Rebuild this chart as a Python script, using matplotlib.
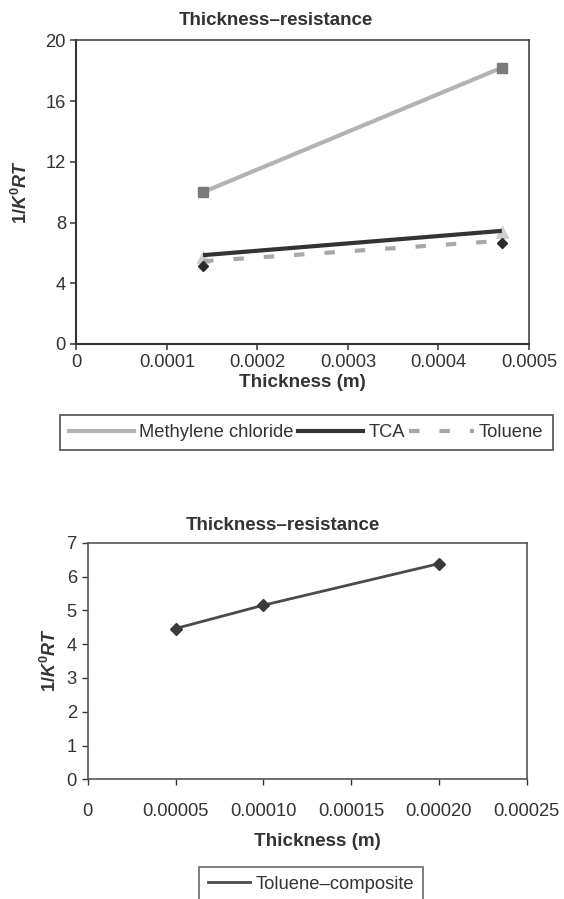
import matplotlib
matplotlib.use("Agg")
import matplotlib.pyplot as plt
from matplotlib.lines import Line2D

plt.rcParams['font.family'] = ['Liberation Sans', 'DejaVu Sans']
plt.rcParams['mathtext.fontset'] = 'custom'
plt.rcParams['mathtext.rm'] = 'Liberation Sans:bold'
plt.rcParams['mathtext.it'] = 'Liberation Sans:italic:bold'
plt.rcParams['mathtext.bf'] = 'Liberation Sans:bold'

W, H = 564, 899
txt = '#333333'

# top chart data
thick = [0.00014, 0.00047]
methylene = [10.0, 18.2]
tca = [5.85, 7.45]
tca_pts = [5.75, 7.35]
toluene = [5.45, 6.8]
toluene_pts = [5.15, 6.65]
top_xticks = [0, 0.0001, 0.0002, 0.0003, 0.0004, 0.0005]
top_xlabels = ['0', '0.0001', '0.0002', '0.0003', '0.0004', '0.0005']
top_yticks = [0, 4, 8, 12, 16, 20]

# bottom chart data
thick2 = [0.00005, 0.00010, 0.00020]
composite = [4.46, 5.15, 6.38]
bot_xticks = [0, 0.00005, 0.00010, 0.00015, 0.00020, 0.00025]
bot_xlabels = ['0', '0.00005', '0.00010', '0.00015', '0.00020', '0.00025']
bot_yticks = [0, 1, 2, 3, 4, 5, 6, 7]

fig = plt.figure(figsize=(W / 100, H / 100), dpi=100)
fig.patch.set_facecolor('white')

FS = 13.2


def px_axes(l, t, r, b):
    return fig.add_axes([l / W, 1 - b / H, (r - l) / W, (b - t) / H])


ylab = r'$\mathrm{1/}K^{\mathrm{0}}RT$'

# ---------------- top chart ----------------
ax = px_axes(76.3, 40.3, 529, 344)
ax.plot(thick, methylene, color='#b3b3b3', lw=3, solid_capstyle='butt', zorder=2)
ax.plot(thick, methylene, ls='none', marker='s', ms=7, color='#7a7a7a', zorder=3)
ax.plot(thick, tca_pts, ls='none', marker='^', ms=8, color='#cfcfcf', zorder=2)
ax.plot(thick, tca, color='#333333', lw=3, solid_capstyle='butt', zorder=3)
ax.plot(thick, toluene, color='#a8a8a8', lw=3, ls=(0, (2.5, 4.8)), zorder=3)
ax.plot(thick, toluene_pts, ls='none', marker='D', ms=5.5, color='#2b2b2b', zorder=4)

ax.set_xlim(0, 0.0005)
ax.set_ylim(0, 20)
ax.set_xticks(top_xticks)
ax.set_xticklabels(top_xlabels)
ax.set_yticks(top_yticks)
ax.tick_params(axis='both', labelsize=FS, colors=txt, length=4, width=1.1, direction='out')
ax.tick_params(axis='x', pad=3.5)
ax.tick_params(axis='y', pad=3.5)
for s in ['left', 'bottom']:
    ax.spines[s].set_color('#333333')
    ax.spines[s].set_linewidth(1.5)
for s in ['top', 'right']:
    ax.spines[s].set_color('#444444')
    ax.spines[s].set_linewidth(1.2)

fig.text(276 / W, 1 - 20.7 / H, 'Thickness\u2013resistance', ha='center', va='center',
         fontsize=13.5, fontweight='bold', color=txt)
fig.text(302.5 / W, 1 - 383 / H, 'Thickness (m)', ha='center', va='center',
         fontsize=13.6, fontweight='bold', color=txt)
fig.text(20.5 / W, 1 - 192 / H, ylab, ha='center', va='center', rotation=90,
         fontsize=13, color=txt)

h1 = [Line2D([], [], color='#b3b3b3', lw=3),
      Line2D([], [], color='#333333', lw=3),
      Line2D([], [], color='#a8a8a8', lw=3, ls=(0, (2.5, 4.8)))]
leg1 = fig.legend(h1, ['Methylene chloride', 'TCA', 'Toluene'], ncol=3,
                  loc='upper left', bbox_to_anchor=(60 / W, 1 - 415 / H),
                  frameon=True, fancybox=False, fontsize=FS,
                  handlelength=3.55, handletextpad=0.28, columnspacing=0.22,
                  borderpad=0.5, borderaxespad=0, labelcolor=txt)
leg1.get_frame().set_edgecolor('#333333')
leg1.get_frame().set_linewidth(1.3)

# ---------------- bottom chart ----------------
bx = px_axes(87.7, 542.7, 526.7, 779.3)
bx.plot(thick2, composite, color='#4a4a4a', lw=2, marker='D', ms=6,
        markerfacecolor='#3a3a3a', markeredgecolor='#3a3a3a')
bx.set_xlim(0, 0.00025)
bx.set_ylim(0, 7)
bx.set_xticks(bot_xticks)
bx.set_xticklabels(bot_xlabels)
bx.set_yticks(bot_yticks)
bx.tick_params(axis='both', labelsize=FS, colors=txt, length=4.3, width=1.0, direction='out')
bx.tick_params(axis='x', pad=13)
bx.tick_params(axis='y', pad=3.5)
for s in bx.spines.values():
    s.set_color('#555555')
    s.set_linewidth(1.2)

fig.text(282.5 / W, 1 - 525 / H, 'Thickness\u2013resistance', ha='center', va='center',
         fontsize=13.5, fontweight='bold', color=txt)
fig.text(317 / W, 1 - 842 / H, 'Thickness (m)', ha='center', va='center',
         fontsize=13.6, fontweight='bold', color=txt)
fig.text(50 / W, 1 - 660 / H, ylab, ha='center', va='center', rotation=90,
         fontsize=13, color=txt)

h2 = [Line2D([], [], color='#4a4a4a', lw=2)]
leg2 = fig.legend(h2, ['Toluene\u2013composite'], loc='upper left',
                  bbox_to_anchor=(198.7 / W, 1 - 866.7 / H), frameon=True,
                  fancybox=False, fontsize=FS, handlelength=2.3,
                  handletextpad=0.3, borderpad=0.5, borderaxespad=0,
                  labelcolor=txt)
leg2.get_frame().set_edgecolor('#444444')
leg2.get_frame().set_linewidth(1.2)

fig.savefig('out.png', dpi=100, facecolor='white')
